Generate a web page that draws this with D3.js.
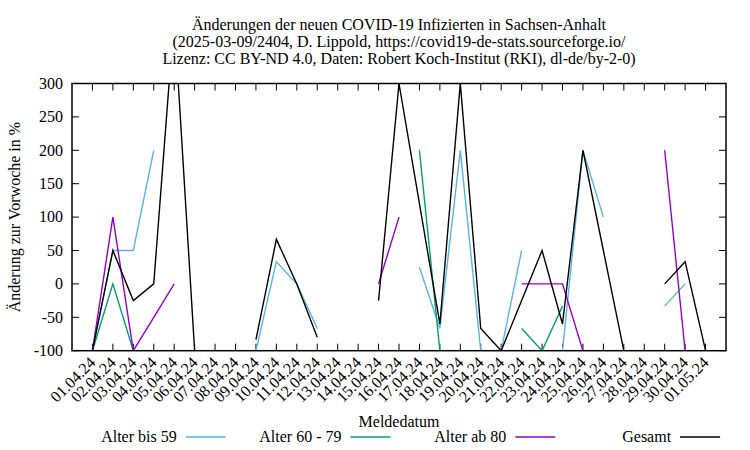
<!DOCTYPE html>
<html><head><meta charset="utf-8">
<script src="https://cdn.jsdelivr.net/npm/d3@7"></script>
<style>
html,body{margin:0;padding:0;background:#fff;}
svg text{font-family:"Liberation Serif","Times New Roman",serif;font-size:16px;fill:#000;}
</style>
</head><body>
<svg id="chart" width="750" height="450"></svg>
<script>
const dates = ["01.04.24","02.04.24","03.04.24","04.04.24","05.04.24","06.04.24","07.04.24","08.04.24","09.04.24","10.04.24","11.04.24","12.04.24","13.04.24","14.04.24","15.04.24","16.04.24","17.04.24","18.04.24","19.04.24","20.04.24","21.04.24","22.04.24","23.04.24","24.04.24","25.04.24","26.04.24","27.04.24","28.04.24","29.04.24","30.04.24","01.05.24"];
const bis59 = [-100,50,50,200,null,null,null,null,-100,33.3,0,-66.7,null,null,null,null,25,-66.7,200,-100,-100,50,null,-100,200,100,null,null,-33.3,0,null];
const a6079 = [-100,0,-100,null,null,null,null,null,null,null,null,null,null,null,null,null,200,-100,null,null,null,-66.7,-100,-33.3,null,null,null,null,null,null,null];
const ab80 = [-100,100,-100,-50,0,null,null,null,null,null,-100,-100,null,null,0,100,null,null,null,null,null,0,0,0,-100,null,null,null,200,-100,-100];
const gesamt = [-100,50,-25,0,400,-100,null,null,-83.3,66.7,0,-80,null,null,-25,300,120,-60,300,-66.7,-100,-25,50,-60,200,50,-100,null,0,33.3,-100];
const yTicks = [-100,-50,0,50,100,150,200,250,300];
const titleLines = ["Änderungen der neuen COVID-19 Infizierten in Sachsen-Anhalt","(2025-03-09/2404, D. Lippold, https://covid19-de-stats.sourceforge.io/","Lizenz: CC BY-ND 4.0, Daten: Robert Koch-Institut (RKI), dl-de/by-2-0)"];
const seriesNames = ["Alter bis 59","Alter 60 - 79","Alter ab 80","Gesamt"];
const seriesColors = ["#56b4e9","#009e73","#9400d3","#000000"];
const seriesData = [bis59,a6079,ab80,gesamt];

const L=72, R=726, T=83.5, B=350.7;
const svg = d3.select("#chart");
const x = d3.scaleLinear().domain([-1, dates.length]).range([L,R]);
const y = d3.scaleLinear().domain([-100,300]).range([B,T]);

svg.append("defs").append("clipPath").attr("id","clip")
  .append("rect").attr("x",L).attr("y",T).attr("width",R-L).attr("height",B-T);

// ticks
const tickLen = 7;
const g = svg.append("g");
yTicks.forEach(v=>{
  g.append("line").attr("x1",L).attr("x2",L+tickLen).attr("y1",y(v)).attr("y2",y(v)).attr("stroke","#000").attr("stroke-width",1);
  g.append("line").attr("x1",R).attr("x2",R-tickLen).attr("y1",y(v)).attr("y2",y(v)).attr("stroke","#000").attr("stroke-width",1);
  g.append("text").attr("x",L-9).attr("y",y(v)).attr("dy","0.33em").attr("text-anchor","end").text(v);
});
dates.forEach((d,i)=>{
  const xx=x(i);
  g.append("line").attr("x1",xx).attr("x2",xx).attr("y1",B).attr("y2",B-tickLen).attr("stroke","#000").attr("stroke-width",1);
  g.append("line").attr("x1",xx).attr("x2",xx).attr("y1",T).attr("y2",T+tickLen).attr("stroke","#000").attr("stroke-width",1);
  g.append("text").attr("text-anchor","end")
    .attr("transform",`translate(${xx+4},${B+13}) rotate(-45)`).text(d);
});

// lines
const line = d3.line().defined(v=>v!==null).x((v,i)=>x(i)).y(v=>y(v));
const lg = svg.append("g").attr("clip-path","url(#clip)");
seriesData.forEach((s,k)=>{
  lg.append("path").datum(s).attr("d",line).attr("fill","none")
    .attr("stroke",seriesColors[k]).attr("stroke-width",1.4).attr("stroke-linejoin","miter");
});

// border
svg.append("rect").attr("x",L).attr("y",T).attr("width",R-L).attr("height",B-T)
  .attr("fill","none").attr("stroke","#000").attr("stroke-width",1.5);

// title
titleLines.forEach((t,i)=>{
  svg.append("text").attr("x",(L+R)/2).attr("y",30+i*17).attr("text-anchor","middle").text(t);
});

// axis labels
svg.append("text").attr("transform",`translate(20,${(T+B)/2}) rotate(-90)`).attr("text-anchor","middle").text("Änderung zur Vorwoche in %");
svg.append("text").attr("x",(L+R)/2).attr("y",427).attr("text-anchor","middle").text("Meldedatum");

// legend
seriesNames.forEach((n,k)=>{
  const xe = 225.7 + k*164.8;
  svg.append("line").attr("x1",xe-40).attr("x2",xe).attr("y1",437).attr("y2",437)
    .attr("stroke",seriesColors[k]).attr("stroke-width",1.4);
  svg.append("text").attr("x",xe-49).attr("y",442).attr("text-anchor","end").text(n);
});
</script>
</body></html>
